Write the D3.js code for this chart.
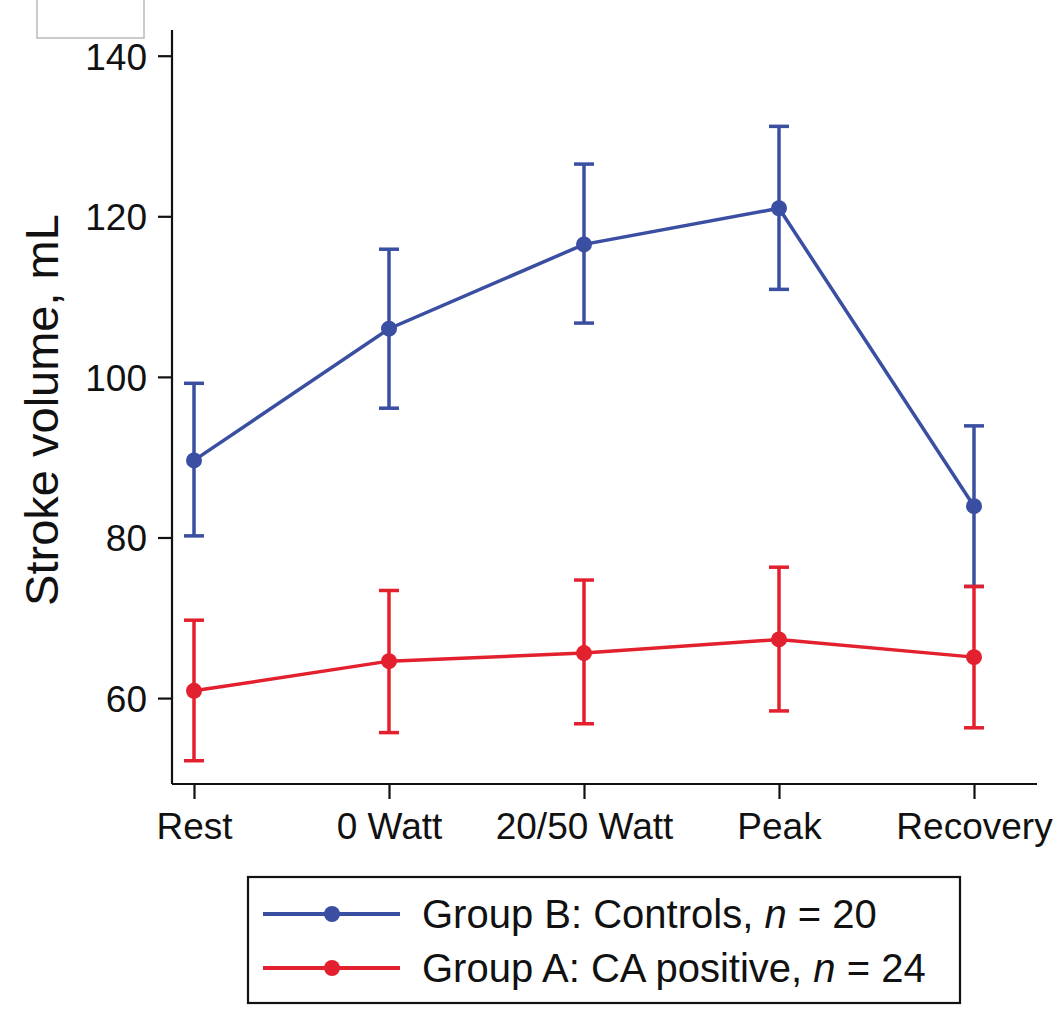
<!DOCTYPE html>
<html>
<meta charset="UTF-8">
<style>
body { margin: 0; background: #fff; }
svg text { font-family: "Liberation Sans", Arial, sans-serif; fill: #111; }
.axis path, .axis line { stroke: #111; stroke-width: 2.2px; }
</style>
<svg width="1064" height="1010"></svg>
<script src="https://d3js.org/d3.v7.min.js"></script>
<script>
//	categories along the x axis
var phases = ["Rest", "0 Watt", "20/50 Watt", "Peak", "Recovery"];

//	Group B: controls (mean, lower, upper)
var controlsMean = [89.6, 106.0, 116.5, 121.0, 83.9];
var controlsLow  = [80.2, 96.1, 106.7, 110.9, 73.9];
var controlsHigh = [99.2, 115.9, 126.5, 131.2, 93.9];

//	Group A: CA positive
var caMean = [60.9, 64.6, 65.6, 67.3, 65.1];
var caLow  = [52.2, 55.7, 56.8, 58.4, 56.3];
var caHigh = [69.7, 73.4, 74.7, 76.3, 73.9];

var yTicks = [60, 80, 100, 120, 140];

var series = [
	{ name: "Group B: Controls, ", n: "20", color: "#3a4ea2", mean: controlsMean, low: controlsLow, high: controlsHigh },
	{ name: "Group A: CA positive, ", n: "24", color: "#e3202e", mean: caMean, low: caLow, high: caHigh }
];

var svg = d3.select("svg");

//	small grey frame in the corner of the original
svg.append("path")
	.attr("d", "M37,0V38H144V0")
	.attr("fill", "none")
	.attr("stroke", "#bbb")
	.attr("stroke-width", 1.5);

var x = d3.scalePoint().domain(phases).range([194, 974]);
var y = d3.scaleLinear().domain([49.3, 143.2]).range([784, 30]);

//	axes
var yAxis = svg.append("g")
	.attr("class", "axis")
	.attr("transform", "translate(172,0)")
	.call(d3.axisLeft(y).tickValues(yTicks).tickSize(14).tickPadding(11));
yAxis.select(".domain").attr("d", "M0," + y.range()[1] + "V" + y.range()[0]);
yAxis.selectAll("text").style("font-size", "37px").attr("dy", "0.36em");

var xAxis = svg.append("g")
	.attr("class", "axis")
	.attr("transform", "translate(0,784)")
	.call(d3.axisBottom(x).tickSize(15).tickPadding(12));
xAxis.select(".domain").attr("d", "M172,0H1037");
xAxis.selectAll("text").style("font-size", "37px").attr("dy", "0.75em");

svg.append("text")
	.attr("transform", "translate(58,410) rotate(-90)")
	.attr("text-anchor", "middle")
	.style("font-size", "47px")
	.text("Stroke volume, mL");

//	series: lines, error bars, markers
var line = d3.line()
	.x(function(d, i) { return x(phases[i]); })
	.y(function(d) { return y(d); });

series.forEach(function(s) {
	var g = svg.append("g");
	g.append("path")
		.attr("d", line(s.mean))
		.attr("fill", "none")
		.attr("stroke", s.color)
		.attr("stroke-width", 3.5);
	phases.forEach(function(p, i) {
		var cx = x(p);
		g.append("line")
			.attr("x1", cx).attr("x2", cx)
			.attr("y1", y(s.low[i])).attr("y2", y(s.high[i]))
			.attr("stroke", s.color).attr("stroke-width", 3.5);
		[s.low[i], s.high[i]].forEach(function(v) {
			g.append("line")
				.attr("x1", cx - 10).attr("x2", cx + 10)
				.attr("y1", y(v)).attr("y2", y(v))
				.attr("stroke", s.color).attr("stroke-width", 3.5);
		});
	});
	g.selectAll("circle")
		.data(s.mean)
		.enter().append("circle")
		.attr("cx", function(d, i) { return x(phases[i]); })
		.attr("cy", function(d) { return y(d); })
		.attr("r", 8)
		.attr("fill", s.color);
});

//	legend
var legend = svg.append("g");
legend.append("rect")
	.attr("x", 248).attr("y", 877)
	.attr("width", 712).attr("height", 126)
	.attr("fill", "none")
	.attr("stroke", "#111")
	.attr("stroke-width", 2.2);

series.forEach(function(s, i) {
	var ly = 914 + i * 54;
	legend.append("line")
		.attr("x1", 263).attr("x2", 400)
		.attr("y1", ly).attr("y2", ly)
		.attr("stroke", s.color).attr("stroke-width", 4);
	legend.append("circle")
		.attr("cx", 332).attr("cy", ly).attr("r", 8)
		.attr("fill", s.color);
	var t = legend.append("text")
		.attr("x", 422).attr("y", ly)
		.attr("dy", "0.36em")
		.style("font-size", "40px");
	t.append("tspan").text(s.name);
	t.append("tspan").style("font-style", "italic").text("n");
	t.append("tspan").text(" = " + s.n);
});
</script>
</html>
